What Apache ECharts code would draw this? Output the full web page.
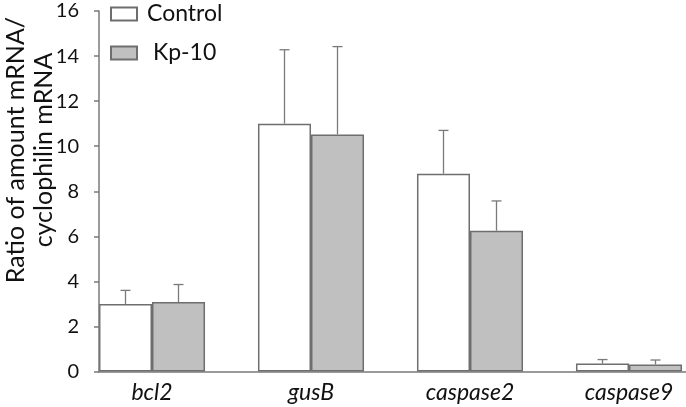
<!DOCTYPE html>
<html>
<head>
<meta charset="utf-8">
<script src="https://cdn.jsdelivr.net/npm/echarts@6/dist/echarts.min.js"></script>
<style>
html,body{margin:0;padding:0;background:#fff;}
#chart{width:686px;height:407px;}
</style>
</head>
<body>
<div id="chart"></div>
<script>
const categories = ['bcl2', 'gusB', 'caspase2', 'caspase9'];
const controlMean = [3.0, 11.0, 8.78, 0.35];
const controlErr  = [0.6, 3.28, 1.92, 0.18];
const kpMean      = [3.08, 10.52, 6.25, 0.31];
const kpErr       = [0.78, 3.9, 1.32, 0.2];
const yTicks = { min: 0, max: 16, interval: 2 };

const FONT = 'Lato, "Open Sans", sans-serif';
const chart = echarts.init(document.getElementById('chart'));

function errItem(sign) {
  return function (params, api) {
    const i = api.value(0);
    const mean = api.value(1);
    const err = api.value(2);
    const band = api.size([1, 0])[0];
    const c0 = api.coord([i, mean]);
    const c1 = api.coord([i, mean + err]);
    const x = c0[0] + sign * band / 6;
    const cap = 5;
    const st = { stroke: '#7a7a7a', lineWidth: 1.3 };
    return {
      type: 'group',
      children: [
        { type: 'line', shape: { x1: x, y1: c0[1], x2: x, y2: c1[1] }, style: st },
        { type: 'line', shape: { x1: x - cap, y1: c1[1], x2: x + cap, y2: c1[1] }, style: st }
      ]
    };
  };
}

const option = {
  backgroundColor: '#fff',
  animation: false,
  textStyle: { fontFamily: FONT },
  grid: { left: 72.5, width: 636, top: 11, height: 360.5, containLabel: false, outerBoundsMode: 'none' },
  legend: {
    orient: 'vertical',
    left: 110,
    top: 0,
    padding: 0,
    itemWidth: 26,
    itemHeight: 13,
    itemGap: 11,
    icon: 'rect',
    data: ['Control', 'Kp-10'],
    formatter: function (n) { return n === 'Kp-10' ? ' Kp-10' : n; },
    textStyle: { fontFamily: FONT, fontSize: 23, color: '#111', lineHeight: 28, padding: [0, 0, 0, 5] }
  },
  xAxis: {
    type: 'category',
    data: categories,
    z: 0,
    axisLine: { lineStyle: { color: '#7a7a7a', width: 1.5 } },
    axisTick: { show: false },
    axisLabel: { fontFamily: FONT, fontStyle: 'italic', fontSize: 23, color: '#111', margin: 10 }
  },
  yAxis: {
    type: 'value',
    min: yTicks.min, max: yTicks.max, interval: yTicks.interval,
    offset: -26.5,
    z: 3,
    axisLine: { show: true, lineStyle: { color: '#7a7a7a', width: 1.5 } },
    axisTick: { show: true, length: 5, lineStyle: { color: '#7a7a7a', width: 1.5 } },
    splitLine: { show: false },
    axisLabel: { fontFamily: FONT, fontSize: 20, color: '#111', margin: 20 }
  },
  graphic: [
    { type: 'rect', z: 1, shape: { x: 60, y: 366, width: 38, height: 10 }, style: { fill: '#fff' } },
    {
      type: 'text', x: 30, y: 150, rotation: Math.PI / 2,
      style: {
        text: 'Ratio of amount mRNA/\ncyclophilin mRNA',
        fontFamily: FONT, fontSize: 25, fill: '#111',
        align: 'center', verticalAlign: 'middle', lineHeight: 28
      }
    }
  ],
  series: [
    {
      name: 'Control', type: 'bar', data: controlMean,
      barGap: '0%', barCategoryGap: '33.3%',
      itemStyle: { color: '#ffffff', borderColor: '#6e6e6e', borderWidth: 1.5 }
    },
    {
      name: 'Kp-10', type: 'bar', data: kpMean,
      itemStyle: { color: '#c0c0c0', borderColor: '#6e6e6e', borderWidth: 1.5 }
    },
    {
      type: 'custom', z: 5,
      renderItem: errItem(-1),
      data: categories.map((c, i) => [i, controlMean[i], controlErr[i]]),
      encode: { x: 0, y: 1 }
    },
    {
      type: 'custom', z: 5,
      renderItem: errItem(1),
      data: categories.map((c, i) => [i, kpMean[i], kpErr[i]]),
      encode: { x: 0, y: 1 }
    }
  ]
};
chart.setOption(option);
</script>
</body>
</html>
